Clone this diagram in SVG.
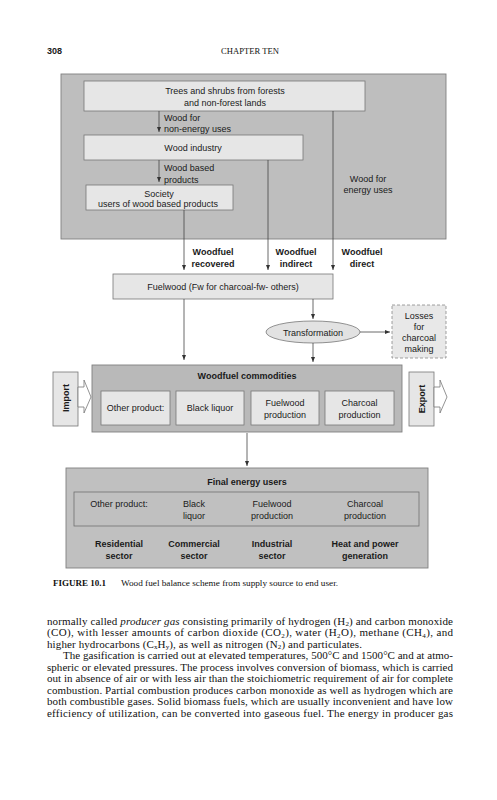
<svg xmlns="http://www.w3.org/2000/svg" width="497" height="800" viewBox="0 0 497 800">
<style>
.t{font-family:"Liberation Sans",Arial,sans-serif;font-size:9px;fill:#1a1a1a}
.b{font-weight:bold}
.c{text-anchor:middle}
.lt{fill:#e6e6e6;stroke:#777;stroke-width:0.8}
.bg{fill:#bebebe;stroke:#808080;stroke-width:0.9}
.ln{stroke:#444;stroke-width:0.8;fill:none}
.s{font-family:"Liberation Serif","Times New Roman",serif;fill:#111}
.sb{font-size:7px}
</style>
<defs>
<marker id="ah" markerUnits="userSpaceOnUse" markerWidth="6" markerHeight="5" refX="5.5" refY="2.5" orient="auto">
<path d="M0,0.3 L5.5,2.5 L0,4.7 z" fill="#333"/>
</marker>
</defs>
<rect width="497" height="800" fill="#fff"/>
<text x="47" y="54" class="t b" font-size="10">308</text>
<text x="250" y="54" class="s c" font-size="8.6">CHAPTER TEN</text>

<g id="supply-panel"><rect x="61" y="74" width="385" height="165" class="bg"/></g>
<g id="trees"><rect x="84" y="81" width="281" height="30" class="lt"/>
<text x="225" y="94" class="t c">Trees and shrubs from forests</text>
<text x="225" y="106" class="t c">and non-forest lands</text></g>
<g id="wood-industry"><rect x="84" y="135" width="219" height="25" class="lt"/>
<text x="193" y="151" class="t c">Wood industry</text></g>
<g id="society"><rect x="86" y="185" width="147" height="25" class="lt"/>
<text x="159" y="197" class="t c">Society</text>
<text x="158" y="207" class="t c">users of wood based products</text></g>
<g id="fuelwood"><rect x="113" y="274" width="220" height="25" class="lt"/>
<text x="223" y="290" class="t c">Fuelwood (Fw for charcoal-fw- others)</text></g>
<g id="transformation"><ellipse cx="313" cy="332" rx="47" ry="11" fill="#e2e2e2" stroke="#777" stroke-width="0.8"/>
<text x="313" y="335.5" class="t c">Transformation</text></g>
<g id="losses"><rect x="392" y="305" width="54" height="53" fill="#e8e8e8" stroke="#888" stroke-width="0.8" stroke-dasharray="3,2"/>
<text x="419" y="319" class="t c">Losses</text>
<text x="419" y="330" class="t c">for</text>
<text x="419" y="341" class="t c">charcoal</text>
<text x="419" y="352" class="t c">making</text></g>

<g id="commodities"><rect x="92" y="365" width="310" height="67" fill="#b9b9b9" stroke="#808080" stroke-width="0.9"/>
<text x="247" y="379" class="t b c">Woodfuel commodities</text>
<rect x="101" y="391" width="69" height="34" class="lt"/>
<text x="135.5" y="411" class="t c">Other product:</text>
<rect x="176" y="391" width="68" height="34" class="lt"/>
<text x="210" y="411" class="t c">Black liquor</text>
<rect x="251" y="391" width="68" height="34" class="lt"/>
<text x="285" y="406" class="t c">Fuelwood</text>
<text x="285" y="418" class="t c">production</text>
<rect x="325" y="391" width="69" height="34" class="lt"/>
<text x="359.5" y="406" class="t c">Charcoal</text>
<text x="359.5" y="418" class="t c">production</text></g>

<g id="import"><rect x="53" y="372" width="25" height="54" class="lt"/>
<polygon points="78,387 84,387 84,380 91,397 84,413 84,407 78,407" fill="#fff" stroke="#777" stroke-width="0.8"/>
<text transform="translate(68.5,398) rotate(-90)" class="t b c">Import</text></g>
<g id="export"><rect x="409" y="372" width="25" height="54" class="lt"/>
<polygon points="434,387 440,387 440,380 447,397 440,413 440,407 434,407" fill="#fff" stroke="#777" stroke-width="0.8"/>
<text transform="translate(424.5,399) rotate(-90)" class="t b c">Export</text></g>

<g id="final-users"><rect x="66" y="468" width="362" height="100" fill="#c0c0c0" stroke="#808080" stroke-width="0.9"/>
<text x="247" y="485" class="t b c">Final energy users</text>
<rect x="74" y="492" width="345" height="34" fill="none" stroke="#707070" stroke-width="0.8"/>
<text x="119" y="507" class="t c">Other product:</text>
<text x="194" y="507" class="t c">Black</text>
<text x="194" y="519" class="t c">liquor</text>
<text x="272" y="507" class="t c">Fuelwood</text>
<text x="272" y="519" class="t c">production</text>
<text x="365" y="507" class="t c">Charcoal</text>
<text x="365" y="519" class="t c">production</text>
<text x="119" y="547" class="t b c">Residential</text>
<text x="119" y="559" class="t b c">sector</text>
<text x="194" y="547" class="t b c">Commercial</text>
<text x="194" y="559" class="t b c">sector</text>
<text x="272" y="547" class="t b c">Industrial</text>
<text x="272" y="559" class="t b c">sector</text>
<text x="365" y="547" class="t b c">Heat and power</text>
<text x="365" y="559" class="t b c">generation</text></g>

<g id="connectors">
<line x1="159" y1="111" x2="159" y2="132" class="ln" marker-end="url(#ah)"/>
<line x1="159" y1="160" x2="159" y2="182" class="ln" marker-end="url(#ah)"/>
<line x1="184" y1="210" x2="184" y2="270" class="ln" marker-end="url(#ah)"/>
<line x1="268" y1="160" x2="268" y2="270" class="ln" marker-end="url(#ah)"/>
<line x1="333" y1="111" x2="333" y2="270" class="ln" marker-end="url(#ah)"/>
<line x1="184" y1="299" x2="184" y2="360" class="ln" marker-end="url(#ah)"/>
<line x1="313" y1="299" x2="313" y2="319" class="ln" marker-end="url(#ah)"/>
<line x1="360" y1="332" x2="390" y2="332" class="ln" marker-end="url(#ah)"/>
<line x1="313" y1="343" x2="313" y2="362" class="ln" marker-end="url(#ah)"/>
<line x1="247" y1="433" x2="247" y2="466" class="ln" marker-end="url(#ah)"/>
<text x="164" y="121" class="t">Wood for</text>
<text x="164" y="132" class="t">non-energy uses</text>
<text x="164" y="171" class="t">Wood based</text>
<text x="164" y="183" class="t">products</text>
<text x="368" y="182" class="t c">Wood for</text>
<text x="368" y="193" class="t c">energy uses</text>
<text x="213" y="255" class="t b c">Woodfuel</text>
<text x="213" y="267" class="t b c">recovered</text>
<text x="296" y="255" class="t b c">Woodfuel</text>
<text x="296" y="267" class="t b c">indirect</text>
<text x="362" y="255" class="t b c">Woodfuel</text>
<text x="362" y="267" class="t b c">direct</text>
</g>

<text x="53" y="586" class="s" font-size="9" font-weight="bold">FIGURE 10.1</text>
<text x="121" y="586" class="s" font-size="8.6" textLength="217" lengthAdjust="spacingAndGlyphs">Wood fuel balance scheme from supply source to end user.</text>

<g class="s" font-size="11">
<text x="47" y="624.5" textLength="406" lengthAdjust="spacing">normally called <tspan font-style="italic">producer gas</tspan> consisting primarily of hydrogen (H<tspan class="sb" dy="1.5">2</tspan><tspan dy="-1.5">) and carbon monoxide</tspan></text>
<text x="47" y="636" textLength="406" lengthAdjust="spacing">(CO), with lesser amounts of carbon dioxide (CO<tspan class="sb" dy="1.5">2</tspan><tspan dy="-1.5">), water (H</tspan><tspan class="sb" dy="1.5">2</tspan><tspan dy="-1.5">O), methane (CH</tspan><tspan class="sb" dy="1.5">4</tspan><tspan dy="-1.5">), and</tspan></text>
<text x="47" y="647.5" textLength="315" lengthAdjust="spacing">higher hydrocarbons (C<tspan class="sb" dy="1.5">x</tspan><tspan dy="-1.5">H</tspan><tspan class="sb" dy="1.5">y</tspan><tspan dy="-1.5">), as well as nitrogen (N</tspan><tspan class="sb" dy="1.5">2</tspan><tspan dy="-1.5">) and particulates.</tspan></text>
<text x="63" y="659" textLength="390" lengthAdjust="spacing">The gasification is carried out at elevated temperatures, 500°C and 1500°C and at atmo-</text>
<text x="47" y="670.5" textLength="406" lengthAdjust="spacing">spheric or elevated pressures. The process involves conversion of biomass, which is carried</text>
<text x="47" y="682" textLength="406" lengthAdjust="spacing">out in absence of air or with less air than the stoichiometric requirement of air for complete</text>
<text x="47" y="693.5" textLength="406" lengthAdjust="spacing">combustion. Partial combustion produces carbon monoxide as well as hydrogen which are</text>
<text x="47" y="705" textLength="406" lengthAdjust="spacing">both combustible gases. Solid biomass fuels, which are usually inconvenient and have low</text>
<text x="47" y="716.5" textLength="406" lengthAdjust="spacing">efficiency of utilization, can be converted into gaseous fuel. The energy in producer gas</text>
</g>
</svg>
